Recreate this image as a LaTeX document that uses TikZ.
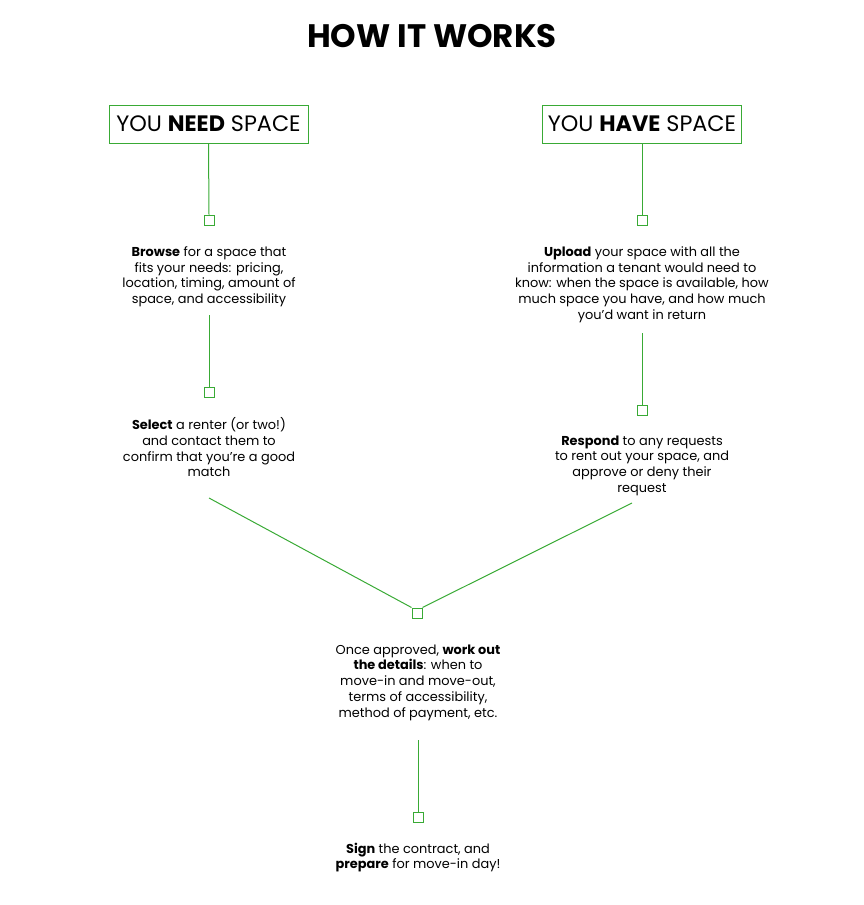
\documentclass[tikz,border=0pt]{standalone}
\usepackage{fontspec}
\setmainfont{Poppins}
\definecolor{grn}{RGB}{57,170,53}
\begin{document}
\begin{tikzpicture}[x=1pt,y=-1pt,
  desc/.style={align=center, font=\fontsize{12.9}{15.7}\selectfont, inner sep=0pt, anchor=north},
  sq/.style={draw=grn, fill=white, minimum size=10pt, inner sep=0pt, line width=1pt},
  conn/.style={draw=grn, line width=1pt},
  hbox/.style={draw=grn, line width=1pt, minimum width=199pt, minimum height=38pt, inner sep=0pt, font=\fontsize{22.3}{26}\selectfont}]
\useasboundingbox (0,0) rectangle (864,905);
\node[font=\fontsize{32.5}{38}\selectfont\bfseries] (title) at (432,36) {HOW IT WORKS};
\node[hbox] (need) at (208.5,124) {YOU \textbf{NEED} SPACE};
\node[hbox] (have) at (642,124) {YOU \textbf{HAVE} SPACE};
\node[desc] (browse) at (209,246.5) {\textbf{Browse} for a space that\\fits your needs: pricing,\\location, timing, amount of\\space, and accessibility};
\coordinate (bend) at (209,315);
\node[desc] (select) at (209,417.5) {\textbf{Select} a renter (or two!)\\and contact them to\\confirm that you’re a good\\match};
\coordinate (selend) at (209,498);
\node[desc] (upload) at (642,246.5) {\textbf{Upload} your space with all the\\information a tenant would need to\\know: when the space is available, how\\much space you have, and how much\\you’d want in return};
\coordinate (uend) at (642,333);
\node[desc] (respond) at (642,435.5) {\textbf{Respond} to any requests\\to rent out your space, and\\approve or deny their\\request};
\coordinate (rend) at (632,503);
\node[desc] (once) at (418,644.5) {Once approved, \textbf{work out}\\\textbf{the details}: when to\\move-in and move-out,\\terms of accessibility,\\method of payment, etc.};
\coordinate (oend) at (418,740);
\node[desc] (sign) at (418,842.5) {\textbf{Sign} the contract, and\\\textbf{prepare} for move-in day!};
\node[sq] (s1) at (209,220) {};
\node[sq] (s2) at (209,392) {};
\node[sq] (s3) at (642,220) {};
\node[sq] (s4) at (642,410) {};
\node[sq] (s5) at (417,613) {};
\node[sq] (s6) at (418,817) {};
\draw[conn] (need.south) -- (s1.north);
\draw[conn] (bend) -- (s2.north);
\draw[conn] (have.south) -- (s3.north);
\draw[conn] (uend) -- (s4.north);
\draw[conn] (selend) -- (s5.north west);
\draw[conn] (rend) -- (s5.north east);
\draw[conn] (oend) -- (s6.north);
\end{tikzpicture}
\end{document}
